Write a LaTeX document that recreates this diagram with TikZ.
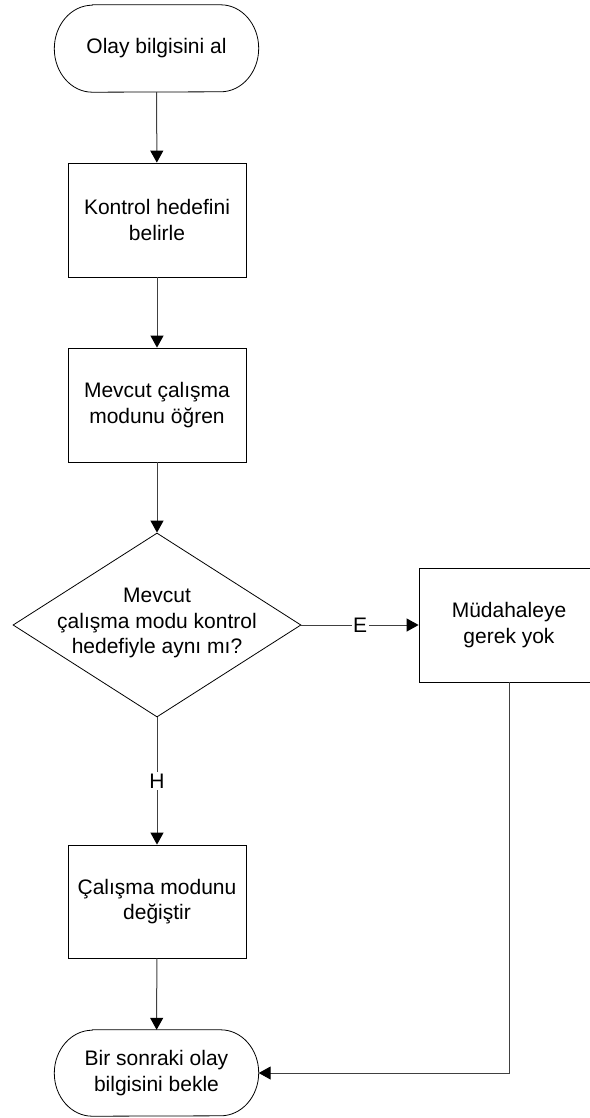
\documentclass[tikz,border=0pt]{standalone}
\usepackage{fontspec}
\setmainfont{Liberation Sans}
\usetikzlibrary{shapes.geometric,arrows.meta}
\begin{document}
\begin{tikzpicture}[x=1pt,y=-1pt,
  txtfont/.style={font=\fontsize{21}{25.5}\selectfont},
  base/.style={draw=black, line width=0.8pt, align=center, txtfont, inner sep=0pt},
  proc/.style={base, rectangle, minimum width=178pt, minimum height=114pt},
  term/.style={align=center, txtfont, inner sep=0pt, rectangle, minimum width=204pt, minimum height=87pt},
  termline/.style={draw=black, line width=0.8pt},
  decision/.style={draw=black, line width=0.8pt, diamond, minimum width=288pt, minimum height=184pt, inner sep=0pt},
  txt/.style={align=center, txtfont, inner sep=0pt},
  conn/.style={draw=black!75, line width=1pt, -{Triangle[length=12pt,width=13pt,color=black]}},
  lbl/.style={fill=white, inner sep=1.5pt, txtfont}]
\useasboundingbox (0,0) rectangle (589,1118);
\node[term] (start) at (156.5,48.5) {Olay bilgisini al};
\draw[termline] ([xshift=38pt]start.north west) -- ([xshift=-38pt]start.north east)
  arc[start angle=90, end angle=-90, x radius=38pt, y radius=43.5pt]
  -- ([xshift=38pt]start.south west)
  arc[start angle=-90, end angle=-270, x radius=38pt, y radius=43.5pt] -- cycle;
\node[proc] (b1) at (157,220) {Kontrol hedefini\\belirle};
\node[proc] (b2) at (157,405) {Mevcut çalışma\\modunu öğren};
\node[decision] (dec) at (157,625) {};
\node[txt] (dectext) at (157,623) {Mevcut\\çalışma modu kontrol\\hedefiyle aynı mı?};
\node[proc, minimum width=180pt] (right) at (509,625) {Müdahaleye\\gerek yok};
\node[proc, minimum height=113pt] (b3) at (157,901.5) {Çalışma modunu\\değiştir};
\node[term, minimum height=86pt] (end) at (156.5,1073) {Bir sonraki olay\\bilgisini bekle};
\draw[termline] ([xshift=38pt]end.north west) -- ([xshift=-38pt]end.north east)
  arc[start angle=90, end angle=-90, x radius=38pt, y radius=43pt]
  -- ([xshift=38pt]end.south west)
  arc[start angle=-90, end angle=-270, x radius=38pt, y radius=43pt] -- cycle;
\draw[conn] (start) -- (b1);
\draw[conn] (b1) -- (b2);
\draw[conn] (b2) -- (dec.north);
\draw[conn] (dec.east) -- node[lbl] (e) {E} (right.west);
\draw[conn] (dec.south) -- node[lbl] (h) {H} (b3.north);
\draw[conn] (b3) -- (end);
\draw[conn] (right.south) |- (end.east);
\end{tikzpicture}
\end{document}
